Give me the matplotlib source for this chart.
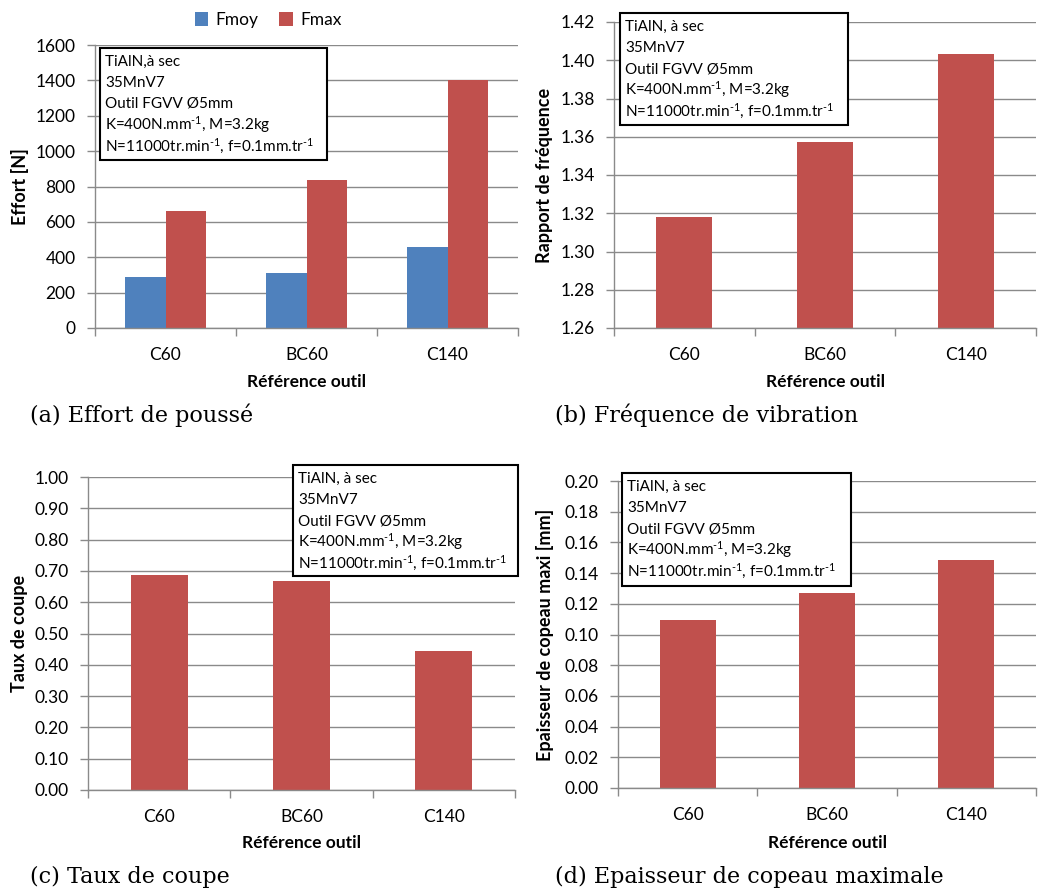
import matplotlib
matplotlib.use("Agg")
import matplotlib.pyplot as plt
from matplotlib.patches import Rectangle

plt.rcParams['font.family'] = ['Lato', 'DejaVu Sans']
plt.rcParams['mathtext.fontset'] = 'custom'
plt.rcParams['mathtext.rm'] = 'Lato'
plt.rcParams['mathtext.it'] = 'Lato'

categories = ["C60", "BC60", "C140"]
fmoy = [287, 309, 456]
fmax = [661, 837, 1402]
rapport_freq = [1.318, 1.357, 1.4035]
taux_coupe = [0.688, 0.669, 0.445]
epaisseur = [0.1094, 0.1272, 0.1483]

box_lines = ["TiAlN, à sec", "35MnV7", "Outil FGVV Ø5mm",
             r"K=400N.mm$^{\text{-}1}$, M=3.2kg",
             r"N=11000tr.min$^{\text{-}1}$, f=0.1mm.tr$^{\text{-}1}$"]
box_lines_a = ["TiAlN,à sec"] + box_lines[1:]

BLUE = "#4F81BD"
RED = "#C0504D"
GRID = "#8a8a8a"

W, H = 1038, 893
fig = plt.figure(figsize=(W / 100, H / 100), dpi=100)


def make_ax(left, top, right, bottom):
    return fig.add_axes([left / W, 1 - bottom / H, (right - left) / W, (bottom - top) / H])


def style(ax, ylim, yticks, fmt, ylabel, ylab_px, xlab_py, left, right, top, bottom):
    ax.set_xlim(-0.5, 2.5)
    ax.set_ylim(*ylim)
    ax.set_yticks(yticks)
    ax.set_yticklabels([fmt.format(v) for v in yticks])
    ax.set_xticks(range(len(categories)))
    ax.set_xticklabels(categories)
    ax.set_xticks([-0.5, 0.5, 1.5, 2.5], minor=True)
    ax.tick_params(axis='x', which='major', length=0, pad=14, labelsize=12.5)
    ax.tick_params(axis='x', which='minor', length=6, width=1, color=GRID, direction='out')
    ax.tick_params(axis='y', which='major', length=6, width=1, color=GRID, pad=8, labelsize=12.5)
    for s in ['top', 'right']:
        ax.spines[s].set_visible(False)
    for s in ['left', 'bottom']:
        ax.spines[s].set_color(GRID)
        ax.spines[s].set_linewidth(1)
    ax.grid(axis='y', color=GRID, linewidth=1)
    ax.set_axisbelow(True)
    ax.set_xlabel("Référence outil", fontsize=12.5, fontweight='bold', va='center')
    ax.xaxis.set_label_coords(0.5, -(xlab_py - bottom) / (bottom - top))
    ax.set_ylabel(ylabel, fontsize=13, fontweight='bold', va='center')
    ax.yaxis.set_label_coords((ylab_px - left) / (right - left), 0.5)


def info_box(x0, y0, x1, y1, lines):
    fig.patches.append(Rectangle((x0 / W, 1 - y1 / H), (x1 - x0) / W, (y1 - y0) / H,
                                 transform=fig.transFigure, facecolor='white',
                                 edgecolor='black', linewidth=1.5, zorder=5))
    for i, t in enumerate(lines):
        fig.text((x0 + 5) / W, 1 - (y0 + 14 + 21 * i) / H, t, fontsize=11,
                 va='center', ha='left', zorder=6)


x = list(range(len(categories)))
bw = 1 / 3.5

# (a)
axa = make_ax(95, 45, 518, 328)
axa.bar([i - bw / 2 for i in x], fmoy, width=bw, color=BLUE, label="Fmoy")
axa.bar([i + bw / 2 for i in x], fmax, width=bw, color=RED, label="Fmax")
style(axa, (0, 1600), list(range(0, 1601, 200)), "{:d}", "Effort [N]", 20, 382, 95, 518, 45, 328)
axa.legend(loc='center', bbox_to_anchor=((268 - 95) / 423, 1 + 25 / 283), ncol=2, frameon=False,
           fontsize=12.5, handlelength=0.8, handleheight=0.8, handletextpad=0.4, columnspacing=1.2)
info_box(100, 48, 327, 160, box_lines_a)

# (b)
axb = make_ax(614, 22, 1036, 328)
axb.bar(x, rapport_freq, width=0.4, color=RED)
style(axb, (1.26, 1.42), [1.26 + 0.02 * i for i in range(9)], "{:.2f}", "Rapport de fréquence", 545, 382, 614, 1036, 22, 328)
info_box(620, 13, 848, 125, box_lines)

# (c)
axc = make_ax(88, 477, 515, 790)
axc.bar(x, taux_coupe, width=0.4, color=RED)
style(axc, (0, 1.0), [0.1 * i for i in range(11)], "{:.2f}", "Taux de coupe", 20, 843, 88, 515, 477, 790)
info_box(293, 465, 518, 576, box_lines)

# (d)
axd = make_ax(618, 481, 1036, 788)
axd.bar(x, epaisseur, width=0.4, color=RED)
style(axd, (0, 0.2), [0.02 * i for i in range(11)], "{:.2f}", "Epaisseur de copeau maxi [mm]", 545, 843, 618, 1036, 481, 788)
info_box(622, 473, 851, 586, box_lines)

# captions
cap_kw = dict(fontsize=16, family=['DejaVu Serif'], va='center', ha='left')
fig.text(30 / W, 1 - 415 / H, "(a) Effort de poussé", **cap_kw)
fig.text(555 / W, 1 - 415 / H, "(b) Fréquence de vibration", **cap_kw)
fig.text(30 / W, 1 - 877 / H, "(c) Taux de coupe", **cap_kw)
fig.text(555 / W, 1 - 877 / H, "(d) Epaisseur de copeau maximale", **cap_kw)

fig.savefig("out.png", dpi=100)
